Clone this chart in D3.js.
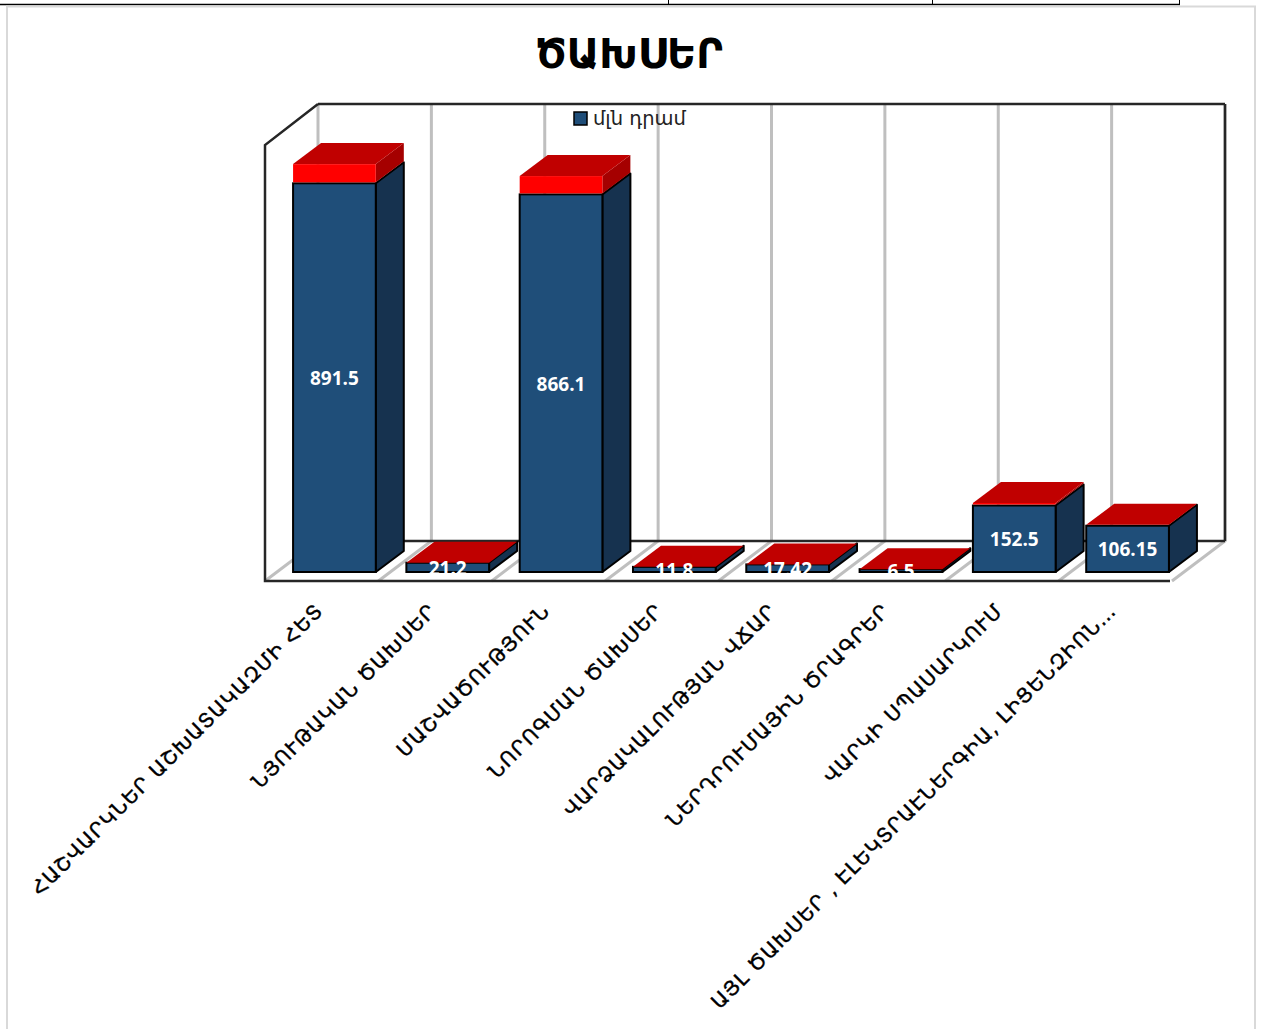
<!DOCTYPE html>
<html>
<head>
<meta charset="utf-8">
<script src="https://cdn.jsdelivr.net/npm/d3@7"></script>
<style>
  body { margin: 0; background: #fff; }
  svg { display: block; }
</style>
</head>
<body>
<div class="canvas"></div>
<script>
var categories = [
  'ՀԱՇՎԱՐԿՆԵՐ ԱՇԽԱՏԱԿԱԶՄԻ ՀԵՏ',
  'ՆՅՈՒԹԱԿԱՆ ԾԱԽՍԵՐ',
  'ՄԱՇՎԱԾՈՒԹՅՈՒՆ',
  'ՆՈՐՈԳՄԱՆ ԾԱԽՍԵՐ',
  'ՎԱՐՁԱԿԱԼՈՒԹՅԱՆ ՎՃԱՐ',
  'ՆԵՐԴՐՈՒՄԱՅԻՆ ԾՐԱԳՐԵՐ',
  'ՎԱՐԿԻ ՍՊԱՍԱՐԿՈՒՄ',
  'ԱՅԼ ԾԱԽՍԵՐ , ԷԼԵԿՏՐԱԷՆԵՐԳԻԱ, ԼԻՑԵՆԶԻՈՆ…'
];
var values = [891.5, 21.2, 866.1, 11.8, 17.42, 6.5, 152.5, 106.15];
var valueLabels = ['891.5', '21.2', '866.1', '11.8', '17.42', '6.5', '152.5', '106.15'];
// red slab on top of the bars, only the tall ones have a visible one
var capValues = [44, 0, 42, 0, 0, 0, 6, 2];
var title = 'ԾԱԽՍԵՐ';
var legendLabel = 'մլն դրամ';

var width = 1261;
var height = 1029;
var font = '"DejaVu Sans", sans-serif';

// wall and floor corners
var floorLeft = 265, floorRight = 1172, floorFront = 581;
var wallDx = 53, wallDy = -40, wallHeight = 437;
// bar depth
var barDx = 28, barDy = -21;

var svg = d3.select('.canvas')
  .append('svg')
  .attr('width', width)
  .attr('height', height);

var xscale = d3.scaleBand()
  .domain(categories)
  .range([278, 1184])
  .paddingInner(0.27)
  .paddingOuter(0.133);

var yscale = d3.scaleLinear()
  .domain([0, 1000])
  .range([572, 136]);

var gridscale = d3.scaleLinear()
  .domain([0, categories.length])
  .range([floorLeft, floorRight]);

function pts(a) {
  return a.map(function(p) { return p.join(','); }).join(' ');
}

// page strip at the top and the chart frame
var strip = svg.append('g');
strip.append('line').attr('x1', 0).attr('x2', 1180).attr('y1', 4.5).attr('y2', 4.5)
  .attr('stroke', '#000').attr('stroke-width', 1.5);
[668.5, 932.5, 1179.5].forEach(function(x) {
  strip.append('line').attr('x1', x).attr('x2', x).attr('y1', 0).attr('y2', 4)
    .attr('stroke', '#000');
});
svg.append('rect')
  .attr('x', 7).attr('y', 6.5).attr('width', 1248).attr('height', 1040)
  .attr('fill', '#fff').attr('stroke', '#d9d9d9').attr('stroke-width', 2);

svg.append('text')
  .attr('x', 629).attr('y', 68)
  .attr('text-anchor', 'middle')
  .attr('font-family', font).attr('font-weight', 'bold').attr('font-size', 40)
  .text(title);

// floor and back wall gridlines
var grid = svg.append('g')
  .attr('fill', 'none')
  .attr('stroke', '#bfbfbf')
  .attr('stroke-width', 3);

d3.range(categories.length + 1).forEach(function(i) {
  var fx = gridscale(i);
  grid.append('polyline')
    .attr('points', pts([
      [fx, floorFront],
      [fx + wallDx, floorFront + wallDy],
      [fx + wallDx, floorFront + wallDy - wallHeight]
    ]));
});

// dark outline of the walls
var frame = svg.append('g')
  .attr('fill', 'none')
  .attr('stroke', '#262626')
  .attr('stroke-width', 2.5);
frame.append('polyline').attr('points', pts([
  [floorLeft + wallDx, floorFront + wallDy - wallHeight],
  [floorLeft, floorFront - wallHeight + 1],
  [floorLeft, floorFront],
  [floorRight - 2, floorFront]
]));
frame.append('line')
  .attr('x1', floorLeft + wallDx).attr('x2', floorRight + wallDx)
  .attr('y1', floorFront + wallDy).attr('y2', floorFront + wallDy);
frame.append('line')
  .attr('x1', floorLeft + wallDx).attr('x2', floorRight + wallDx)
  .attr('y1', floorFront + wallDy - wallHeight).attr('y2', floorFront + wallDy - wallHeight);
frame.append('line')
  .attr('x1', floorRight + wallDx).attr('x2', floorRight + wallDx)
  .attr('y1', floorFront + wallDy - wallHeight).attr('y2', floorFront + wallDy);

// legend
var legend = svg.append('g');
legend.append('rect')
  .attr('x', 574).attr('y', 112).attr('width', 13).attr('height', 13)
  .attr('fill', '#1f4e79').attr('stroke', '#000').attr('stroke-width', 1.5);
legend.append('text')
  .attr('x', 593).attr('y', 125)
  .attr('font-family', font).attr('font-size', 19.5)
  .attr('fill', '#222')
  .text(legendLabel);

// bars
var data = categories.map(function(c, i) {
  return { name: c, value: values[i], cap: capValues[i], label: valueLabels[i] };
});

var bars = svg.selectAll('.bar')
  .data(data)
  .enter()
  .append('g')
  .attr('class', 'bar');

function x0(d) { return xscale(d.name); }
function x1(d) { return xscale(d.name) + xscale.bandwidth(); }
function yTop(d) { return yscale(d.value); }
function capTop(d) { return yscale(d.value + d.cap); }

bars.append('polygon')
  .attr('fill', '#16324f').attr('stroke', '#000').attr('stroke-width', 2)
  .attr('stroke-linejoin', 'round')
  .attr('points', function(d) {
    return pts([
      [x1(d), yscale(0)], [x1(d) + barDx, yscale(0) + barDy],
      [x1(d) + barDx, yTop(d) + barDy], [x1(d), yTop(d)]
    ]);
  });

bars.append('rect')
  .attr('x', x0)
  .attr('y', yTop)
  .attr('width', xscale.bandwidth())
  .attr('height', function(d) { return yscale(0) - yTop(d); })
  .attr('fill', '#1f4e79').attr('stroke', '#000').attr('stroke-width', 2);

// cap side and front only exist where there is a cap value
var capped = bars.filter(function(d) { return d.cap > 0; });
capped.append('polygon')
  .attr('fill', '#a50000')
  .attr('points', function(d) {
    return pts([
      [x1(d), yTop(d) - 1], [x1(d) + barDx, yTop(d) + barDy - 1],
      [x1(d) + barDx, capTop(d) + barDy], [x1(d), capTop(d)]
    ]);
  });
capped.append('rect')
  .attr('x', x0)
  .attr('y', capTop)
  .attr('width', xscale.bandwidth())
  .attr('height', function(d) { return Math.max(yTop(d) - capTop(d) - 1, 0); })
  .attr('fill', '#ff0000');

bars.append('polygon')
  .attr('fill', '#c00000')
  .attr('points', function(d) {
    return pts([
      [x0(d), capTop(d)], [x0(d) + barDx, capTop(d) + barDy],
      [x1(d) + barDx, capTop(d) + barDy], [x1(d), capTop(d)]
    ]);
  });

bars.append('text')
  .attr('x', function(d) { return x0(d) + xscale.bandwidth() / 2; })
  .attr('y', function(d) { return (yTop(d) + yscale(0)) / 2; })
  .attr('dy', '0.4em')
  .attr('text-anchor', 'middle')
  .attr('font-family', '"Open Sans", sans-serif')
  .attr('font-weight', 'bold')
  .attr('font-size', 19)
  .attr('fill', '#fff')
  .text(function(d) { return d.label; });

// rotated category labels
svg.selectAll('.cat')
  .data(categories)
  .enter()
  .append('text')
  .attr('class', 'cat')
  .attr('text-anchor', 'end')
  .attr('font-family', font)
  .attr('font-size', 20)
  .attr('letter-spacing', 1.2)
  .attr('stroke', '#000')
  .attr('stroke-width', 0.4)
  .attr('transform', function(d) {
    return 'translate(' + (xscale(d) + xscale.bandwidth() / 2 - 10) + ',612) rotate(-45)';
  })
  .text(function(d) { return d; });
</script>
</body>
</html>
